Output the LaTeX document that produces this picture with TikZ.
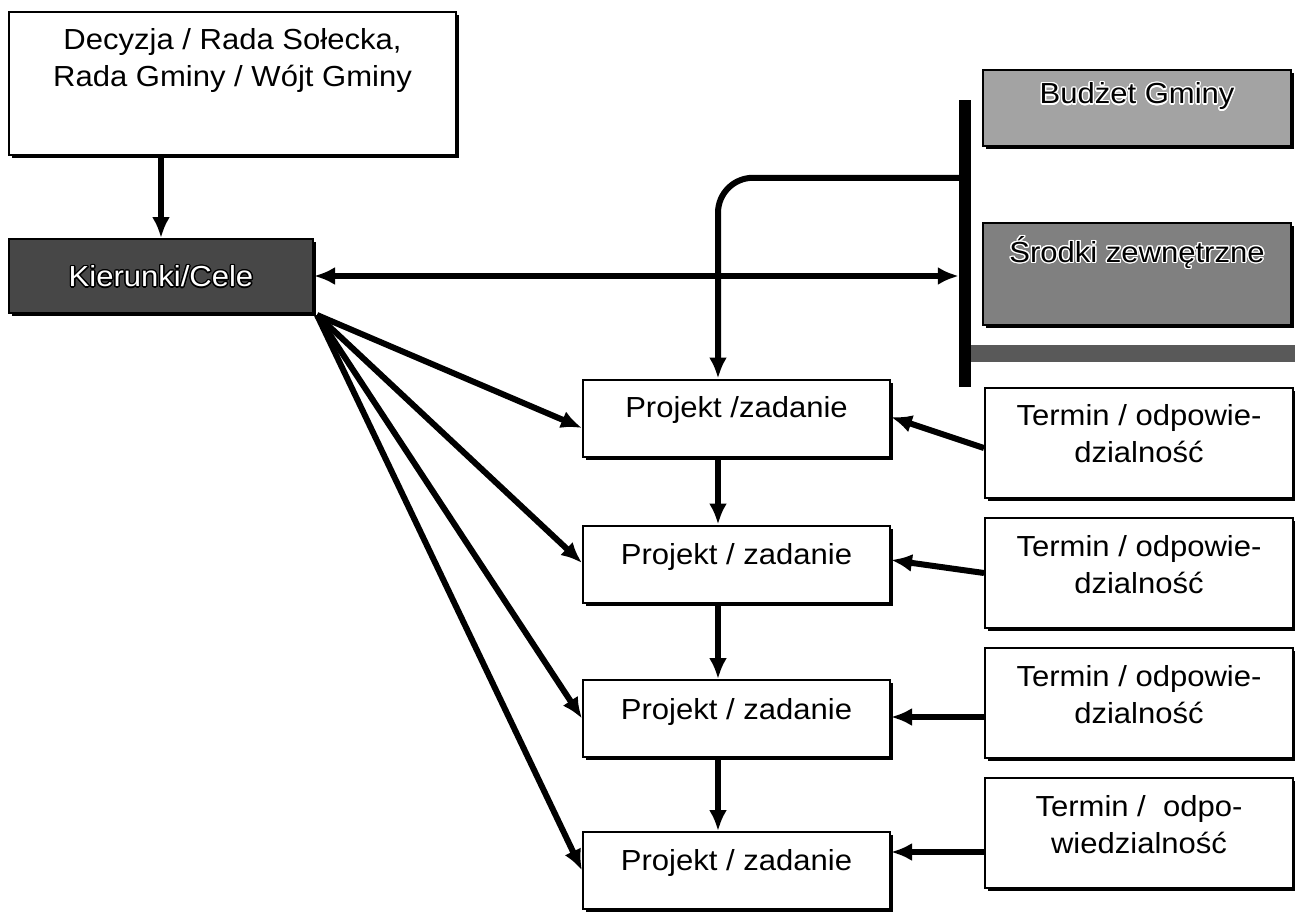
\documentclass[tikz,border=0pt]{standalone}
\usepackage{fontspec}
\setmainfont{Liberation Sans}[FakeStretch=1.07]
\usepackage[copies]{contour}
\contourlength{1.3pt}
\usetikzlibrary{arrows.meta,calc,shadows}
\tikzset{
  box/.style={draw=black, line width=2pt, fill=white, inner sep=0pt,
    drop shadow={shadow xshift=3pt, shadow yshift=-3pt, fill=black, opacity=1}},
  txt/.style={font=\fontsize{29}{37}\selectfont, align=center, inner sep=0pt},
  conn/.style={line width=6pt, -{Latex[length=21pt,width=18pt]}},
  dconn/.style={line width=6pt, {Latex[length=21pt,width=18pt]}-{Latex[length=21pt,width=18pt]}},
  pbox/.style={box, minimum width=307, minimum height=77},
  tbox/.style={box, minimum width=308, minimum height=110},
}
\begin{document}
\begin{tikzpicture}[x=1pt,y=-1pt]
\useasboundingbox[fill=white] (0,0) rectangle (1295,911);

% top decision box
\node[box, minimum width=447, minimum height=143] (dec) at (232.5,83.5) {};
\node[txt] (dect) at (232.5,60) {Decyzja / Rada Sołecka,\\Rada Gminy / Wójt Gminy};

% directions / goals
\node[box, fill=black!72, minimum width=304, minimum height=74] (kie) at (161,276) {};
\node[txt, text=white] (kiet) at (161,277) {\contour{black}{Kierunki/Cele}};

% funding
\node[box, fill=black!36, minimum width=308, minimum height=76] (bud) at (1137,108) {};
\node[txt] (budt) at (1137,97) {\contour{white}{Budżet Gminy}};
\node[box, fill=black!50, minimum width=308, minimum height=102] (sro) at (1137,274) {};
\node[txt] (srot) at (1137,253) {\contour{white}{Środki zewnętrzne}};

% bars
\node[fill=black, inner sep=0pt, minimum width=12, minimum height=287] (vbar) at (965,243.5) {};
\node[fill=black!65, inner sep=0pt, minimum width=324, minimum height=17] (hbar) at (1133,353.5) {};

% project boxes
\node[pbox] (p1) at (736.5,418) {};
\node[txt] (p1t) at (736.5,410) {Projekt /zadanie};
\node[pbox] (p2) at (736.5,564) {};
\node[txt] (p2t) at (736.5,557) {Projekt / zadanie};
\node[pbox] (p3) at (736.5,718.5) {};
\node[txt] (p3t) at (736.5,712) {Projekt / zadanie};
\node[pbox] (p4) at (736.5,870.5) {};
\node[txt] (p4t) at (736.5,863) {Projekt / zadanie};

% deadline boxes
\node[tbox] (t1) at (1139,443) {};
\node[txt] (t1t) at (1139,434) {Termin / odpowie-\\dzialność};
\node[tbox] (t2) at (1139,572.5) {};
\node[txt] (t2t) at (1139,564.5) {Termin / odpowie-\\dzialność};
\node[tbox] (t3) at (1139,702.5) {};
\node[txt] (t3t) at (1139,694.5) {Termin / odpowie-\\dzialność};
\node[tbox] (t4) at (1139,832.5) {};
\node[txt] (t4t) at (1139,825) {Termin /\ \ odpo-\\wiedzialność};

% connectors
\draw[conn] (dec.south -| kie.north) -- (kie.north);
\draw[dconn] (kie.east) -- (kie.east -| vbar.west);
\draw[conn, rounded corners=35pt] ($(vbar.north west)+(0,78)$) -| ($(p1.north)+(-18.5,0)$);

\coordinate (fo) at ($(kie.south east)+(3,1)$);
\draw[conn] (fo) -- ($(p1.west)+(0,10)$);
\draw[conn] (fo) -- ($(p2.west)+(0,-1)$);
\draw[conn] (fo) -- ($(p3.west)+(0,0)$);
\draw[conn] (fo) -- ($(p4.west)+(0,0)$);

\draw[conn] ($(p1.south)+(-18.5,0)$) -- ($(p2.north)+(-18.5,0)$);
\draw[conn] ($(p2.south)+(-18.5,0)$) -- ($(p3.north)+(-18.5,0)$);
\draw[conn] ($(p3.south)+(-18.5,0)$) -- ($(p4.north)+(-18.5,0)$);

\draw[conn] ($(t1.west)+(0,5)$) -- ($(p1.east)+(0,-1)$);
\draw[conn] ($(t2.west)+(0,0.5)$) -- ($(p2.east)+(0,-4)$);
\draw[conn] ($(t3.west)+(0,14.5)$) -- ($(p3.east)+(0,-1.5)$);
\draw[conn] ($(t4.west)+(0,19.5)$) -- ($(p4.east)+(0,-18.5)$);
\end{tikzpicture}
\end{document}
